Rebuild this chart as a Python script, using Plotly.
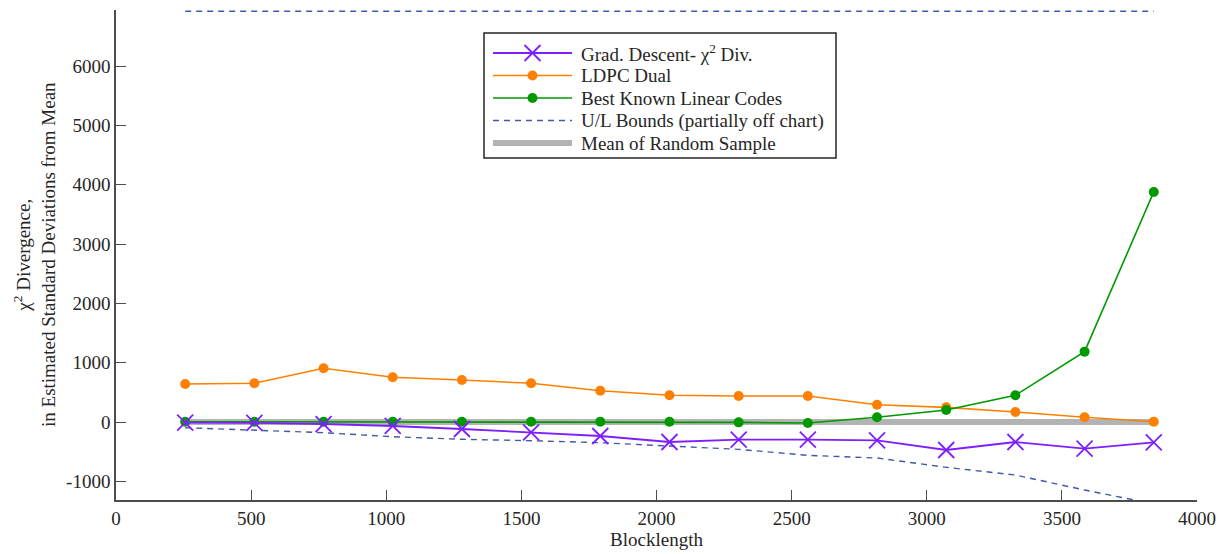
import plotly.graph_objects as go

# Blocklengths (multiples of 256)
blocklength = [256, 512, 768, 1024, 1280, 1536, 1792, 2048, 2304, 2560,
               2816, 3072, 3328, 3584, 3840]

# Chi-squared divergence, in estimated standard deviations from the mean
grad_descent = [-12, -15, -34, -67, -118, -174, -236, -337, -298, -298,
                -309, -472, -337, -450, -342]
ldpc_dual = [641, 653, 905, 754, 708, 653, 528, 450, 438, 438,
             292, 247, 169, 79, 5]
best_known = [5, 5, 5, 5, 5, 5, 5, 5, -6, -17,
              79, 202, 450, 1186, 3879]
upper_bound = [6925] * 15
lower_bound = [-96, -135, -180, -248, -292, -315, -349, -405, -461, -562,
               -607, -764, -894, -1147, -1380]
random_mean = [0] * 15

x_ticks = [0, 500, 1000, 1500, 2000, 2500, 3000, 3500, 4000]
y_ticks = [-1000, 0, 1000, 2000, 3000, 4000, 5000, 6000]
y_tick_text = ["-1000", "0", "1000", "2000", "3000", "4000", "5000", "6000"]

FONT = "Liberation Serif"
TEXT_COLOR = "#262626"
AXIS_COLOR = "#4d4d4d"
PURPLE = "#7f1fff"
ORANGE = "#ff8000"
GREEN = "#009900"
BOUND_COLOR = "#4459a6"
MEAN_COLOR = "#b3b3b3"
BOUND_DASH = "6px,5px"

# Figure geometry (pixels)
W, H = 1229, 554
M_L, M_R, M_T, M_B = 116, 32, 10, 54
PLOT_W = W - M_L - M_R
PLOT_H = H - M_T - M_B


def px_x(x):
    return (x - M_L) / PLOT_W


def px_y(y):
    return (H - M_B - y) / PLOT_H


fig = go.Figure()

fig.add_trace(go.Scatter(
    x=blocklength, y=random_mean, mode="lines",
    line=dict(color=MEAN_COLOR, width=6), showlegend=False))

fig.add_trace(go.Scatter(
    x=blocklength, y=upper_bound, mode="lines",
    line=dict(color=BOUND_COLOR, width=1.4, dash=BOUND_DASH), showlegend=False))
fig.add_trace(go.Scatter(
    x=blocklength, y=lower_bound, mode="lines",
    line=dict(color=BOUND_COLOR, width=1.4, dash=BOUND_DASH), showlegend=False))

fig.add_trace(go.Scatter(
    x=blocklength, y=ldpc_dual, mode="lines+markers",
    line=dict(color=ORANGE, width=1.6),
    marker=dict(symbol="circle", size=10, color=ORANGE), showlegend=False))

fig.add_trace(go.Scatter(
    x=blocklength, y=best_known, mode="lines+markers",
    line=dict(color=GREEN, width=1.6),
    marker=dict(symbol="circle", size=10, color=GREEN), showlegend=False))

fig.add_trace(go.Scatter(
    x=blocklength, y=grad_descent, mode="lines+markers",
    line=dict(color=PURPLE, width=1.8),
    marker=dict(symbol="x-thin", size=16, line=dict(color=PURPLE, width=1.8)),
    showlegend=False))

# Legend box drawn as shapes + annotations
legend_entries = [
    dict(text="Grad. Descent- χ<sup>2</sup> Div.", color=PURPLE, width=1.8, dash="solid", marker="x"),
    dict(text="LDPC Dual", color=ORANGE, width=1.6, dash="solid", marker="circle"),
    dict(text="Best Known Linear Codes", color=GREEN, width=1.6, dash="solid", marker="circle"),
    dict(text="U/L Bounds (partially off chart)", color=BOUND_COLOR, width=1.4, dash=BOUND_DASH, marker=None),
    dict(text="Mean of Random Sample", color=MEAN_COLOR, width=6, dash="solid", marker=None),
]
box_left, box_right, box_top, box_bottom = 484, 836, 33, 158
row_top, row_step = 53, 22.5
line_x0, line_x1, text_x = 493, 572, 579
marker_x = (line_x0 + line_x1) / 2

shapes = [dict(type="rect", xref="paper", yref="paper",
               x0=px_x(box_left), x1=px_x(box_right),
               y0=px_y(box_bottom), y1=px_y(box_top),
               line=dict(color=TEXT_COLOR, width=1.5), fillcolor="white",
               layer="above")]
annotations = []
for i, e in enumerate(legend_entries):
    ry = row_top + i * row_step
    shapes.append(dict(type="line", xref="paper", yref="paper",
                       x0=px_x(line_x0), x1=px_x(line_x1),
                       y0=px_y(ry), y1=px_y(ry), layer="above",
                       line=dict(color=e["color"], width=e["width"], dash=e["dash"])))
    if e["marker"] == "circle":
        shapes.append(dict(type="circle", xref="paper", yref="paper",
                           xsizemode="pixel", ysizemode="pixel",
                           xanchor=px_x(marker_x), yanchor=px_y(ry),
                           x0=-5, x1=5, y0=-5, y1=5, layer="above",
                           fillcolor=e["color"], line=dict(width=0)))
    elif e["marker"] == "x":
        for s in (1, -1):
            shapes.append(dict(type="line", xref="paper", yref="paper",
                               xsizemode="pixel", ysizemode="pixel",
                               xanchor=px_x(marker_x), yanchor=px_y(ry),
                               x0=-8, x1=8, y0=-8 * s, y1=8 * s, layer="above",
                               line=dict(color=e["color"], width=e["width"])))
    annotations.append(dict(xref="paper", yref="paper", x=px_x(text_x), y=px_y(ry),
                            xanchor="left", yanchor="middle", showarrow=False,
                            text=e["text"], font=dict(family=FONT, size=19, color=TEXT_COLOR)))

# Two-line y-axis title
annotations.append(dict(
    xref="paper", yref="paper", x=px_x(34), y=0.5,
    xanchor="center", yanchor="middle", showarrow=False, textangle=-90,
    text="χ<sup>2</sup> Divergence,<br>in Estimated Standard Deviations from Mean",
    font=dict(family=FONT, size=19, color=TEXT_COLOR)))

fig.update_layout(
    width=W, height=H,
    margin=dict(l=M_L, r=M_R, t=M_T, b=M_B),
    plot_bgcolor="white", paper_bgcolor="white",
    font=dict(family=FONT, size=19, color=TEXT_COLOR),
    showlegend=False,
    shapes=shapes,
    annotations=annotations,
    xaxis=dict(
        range=[0, 4000], tickvals=x_ticks,
        showgrid=False, zeroline=False,
        showline=True, linecolor=AXIS_COLOR, linewidth=1.5,
        ticks="inside", ticklen=10, tickcolor=AXIS_COLOR, tickwidth=1.2,
        tickfont=dict(family=FONT, size=19),
        title=dict(text="Blocklength", standoff=3,
                   font=dict(family=FONT, size=19)),
    ),
    yaxis=dict(
        range=[-1315, 6946],
        tickvals=y_ticks, ticktext=y_tick_text,
        showgrid=False, zeroline=False,
        showline=True, linecolor=AXIS_COLOR, linewidth=1.5,
        ticks="inside", ticklen=10, tickcolor=AXIS_COLOR, tickwidth=1.2,
        tickfont=dict(family=FONT, size=19),
    ),
)

fig.write_html("out.html")
